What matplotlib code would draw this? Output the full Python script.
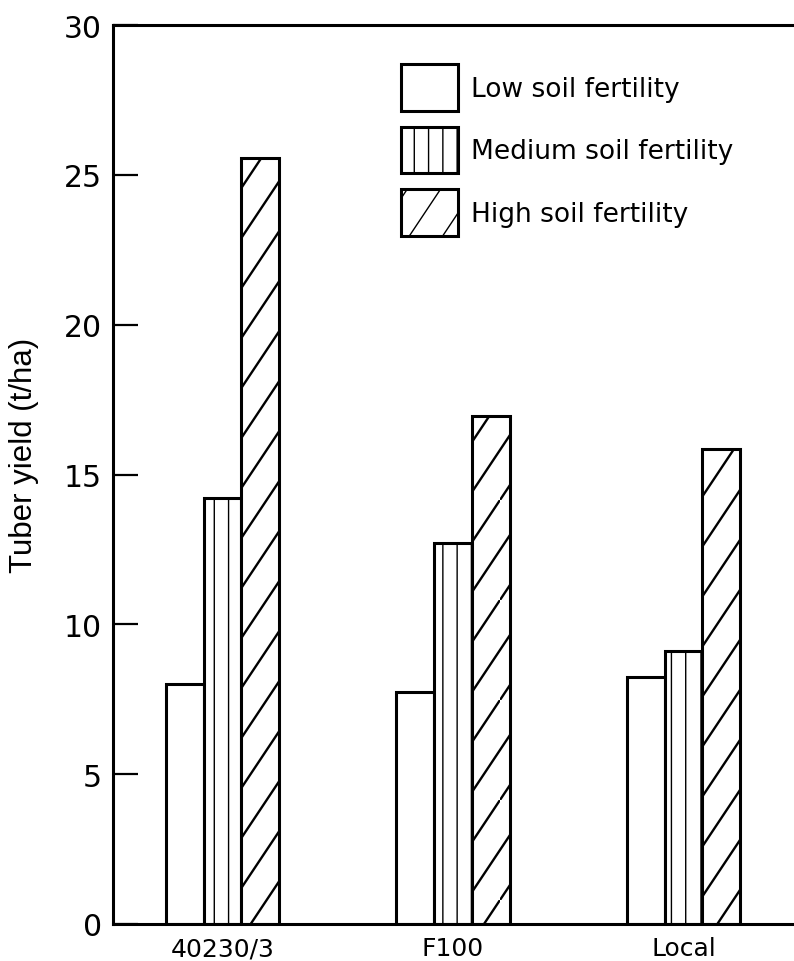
import numpy as np
import matplotlib
matplotlib.use("Agg")
import matplotlib.pyplot as plt
import matplotlib.hatch as mhatch
from matplotlib.path import Path

# ---- data ----
categories = ["40230/3", "F100", "Local"]
series_names = ["Low soil fertility", "Medium soil fertility", "High soil fertility"]
low_vals = [8.0, 7.75, 8.25]
medium_vals = [14.2, 12.7, 9.1]
high_vals = [25.55, 16.95, 15.85]
yticks = [0, 5, 10, 15, 20, 25, 30]
ylabel = "Tuber yield (t/ha)"


# ---- custom hatch patterns (steep diagonals, sparse verticals) ----
class SteepHatch(mhatch.HatchPatternBase):
    def __init__(self, hatch, density):
        self.num_lines = hatch.count('/')
        self.num_vertices = 8 if self.num_lines else 0

    def set_vertices_and_codes(self, vertices, codes):
        segs = [((0, 0), (2 / 3, 1)), ((2 / 3, 0), (1, 0.5)),
                ((0, 0.5), (1 / 3, 1)), ((1 / 3, 0), (1, 1))]
        d = np.array([2 / 3, 1.0])
        d = d / np.linalg.norm(d) * 0.04
        for i, (a, b) in enumerate(segs):
            vertices[2 * i] = np.array(a) - d
            vertices[2 * i + 1] = np.array(b) + d
        codes[0::2] = Path.MOVETO
        codes[1::2] = Path.LINETO


class SparseVHatch(mhatch.HatchPatternBase):
    def __init__(self, hatch, density):
        self.num_lines = 7 if '|' in hatch else 0
        self.num_vertices = self.num_lines * 2

    def set_vertices_and_codes(self, vertices, codes):
        steps = np.linspace(0, 1, self.num_lines, endpoint=False)
        vertices[0::2, 0] = steps
        vertices[0::2, 1] = -0.04
        vertices[1::2, 0] = steps
        vertices[1::2, 1] = 1.04
        codes[0::2] = Path.MOVETO
        codes[1::2] = Path.LINETO


for i, ht in enumerate(mhatch._hatch_types):
    if ht is mhatch.NorthEastHatch:
        mhatch._hatch_types[i] = SteepHatch
    elif ht is mhatch.VerticalHatch:
        mhatch._hatch_types[i] = SparseVHatch

plt.rcParams['font.family'] = ['DejaVu Sans']

W, H = 794, 962
fig = plt.figure(figsize=(W / 100, H / 100), dpi=100)
ax = fig.add_axes([113 / W, 1 - 925 / H, 1 - 113 / W, (925 - 26) / H])

x = np.arange(len(categories))
bw = 0.1636
lw = 2.2

with plt.rc_context({'hatch.linewidth': 1.0}):
    b1 = ax.bar(x - bw, low_vals, bw, facecolor='white', edgecolor='black',
                linewidth=lw, label=series_names[0], zorder=2)
    b2 = ax.bar(x, medium_vals, bw, facecolor='white', edgecolor='black',
                linewidth=lw, hatch='|', label=series_names[1], zorder=2)
with plt.rc_context({'hatch.linewidth': 1.7}):
    b3 = ax.bar(x + bw, high_vals, bw, facecolor='white', edgecolor='black',
                linewidth=lw, hatch='/', label=series_names[2], zorder=2)

ax.set_xlim(-0.475, 2.479)
ax.set_ylim(0, 30)
ax.set_yticks(yticks)
ax.set_yticklabels([str(t) for t in yticks], fontsize=21.5)
ax.set_xticks(x)
ax.set_xticklabels(categories, fontsize=18)

ax.tick_params(axis='y', direction='in', length=18, width=1.6, pad=8)
ax.tick_params(axis='x', length=0, pad=9)

for s in ['left', 'top', 'bottom']:
    ax.spines[s].set_linewidth(lw)
ax.spines['right'].set_visible(False)

ax.set_ylabel(ylabel, fontsize=22.5, family=['Liberation Sans', 'DejaVu Sans'])
ax.yaxis.set_label_coords(-0.108, 0.522)

leg = ax.legend(loc='upper left', bbox_to_anchor=(401 / W, 1 - 65 / H),
                bbox_transform=fig.transFigure, frameon=False, fontsize=19,
                borderpad=0, borderaxespad=0, handlelength=2.16,
                handleheight=2.35, labelspacing=0.6, handletextpad=0.5)

fig.savefig("out.png", dpi=100)
